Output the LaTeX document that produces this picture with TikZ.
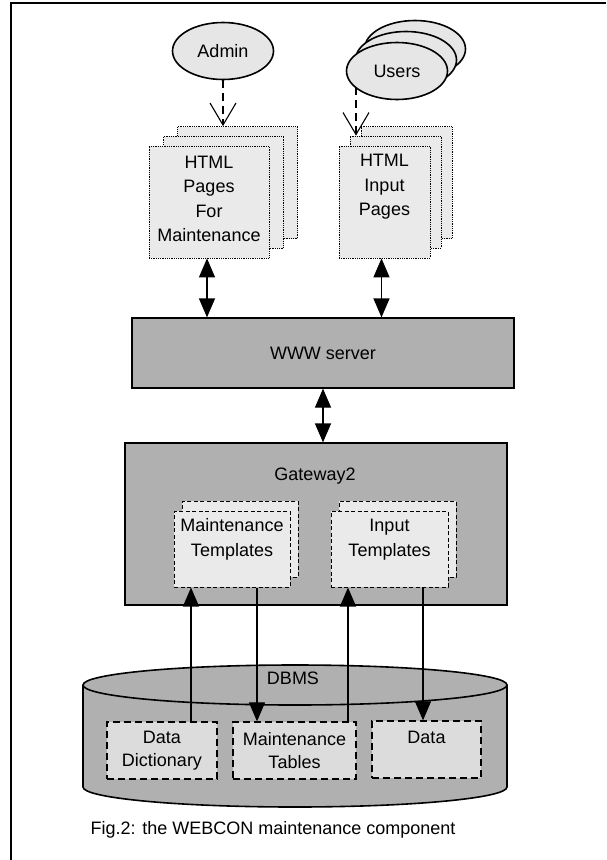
\documentclass[tikz,border=0pt]{standalone}
\usepackage{fontspec}
\setmainfont{Liberation Sans}
\usetikzlibrary{arrows.meta,shapes.geometric}
\definecolor{dgray}{RGB}{176,176,176}
\definecolor{lgray}{RGB}{234,234,234}
\definecolor{egray}{RGB}{230,230,230}
\definecolor{bgray}{RGB}{220,220,220}
\begin{document}
\begin{tikzpicture}[x=1pt,y=-1pt,
  font=\fontsize{18}{24.5}\selectfont,
  pg/.style={draw, densely dotted, fill=lgray, line width=0.8pt, inner sep=0pt, minimum height=112pt},
  tpl/.style={draw, fill=lgray, line width=1pt, dash pattern=on 4pt off 2.5pt, inner sep=0pt, minimum height=76pt},
  dbb/.style={draw, fill=bgray, line width=1.3pt, dash pattern=on 7pt off 4pt, inner sep=0pt, minimum height=57pt},
  graybox/.style={draw, fill=dgray, line width=1.2pt, inner sep=0pt, minimum width=382pt},
  actor/.style={ellipse, draw, fill=egray, line width=1.6pt, minimum width=101pt, minimum height=57pt, inner sep=0pt},
  txt/.style={align=center, inner sep=0pt},
  dbl/.style={{Triangle[width=16pt,length=19pt]}-{Triangle[width=16pt,length=19pt]}, line width=1.2pt},
  one/.style={-{Triangle[width=16pt,length=19pt]}, line width=1.2pt},
  dsh/.style={dash pattern=on 8pt off 5pt, -{Straight Barb[width=26pt,length=22pt,line width=1.1pt]}, line width=1.1pt}]
\useasboundingbox (0,0) rectangle (606,860);
% frame
\draw[line width=2.5pt] (11,860) -- (11,3) -- (606,3);

% actors
\node[actor] (admin) at (223,51) {Admin};
\node[actor] (users3) at (415,49) {};
\node[actor] (users2) at (406,60) {};
\node[actor] (users1) at (397,71) {Users};

% HTML pages for maintenance
\node[pg, minimum width=120pt] (hpm3) at (237.5,182.5) {};
\node[pg, minimum width=120pt] (hpm2) at (223.5,192) {};
\node[pg, minimum width=120pt] (hpm1) at (209,202) {};
\node[txt] (hpmt) at (209,199) {HTML\\Pages\\For\\Maintenance};

% HTML input pages
\node[pg, minimum width=91pt] (ip3) at (406.5,182.5) {};
\node[pg, minimum width=91pt] (ip2) at (395.5,192) {};
\node[pg, minimum width=91pt] (ip1) at (384.5,202) {};
\node[txt] (ipt) at (384.5,187) {HTML\\Input\\Pages};

% dashed arrows from actors
\draw[dsh] (admin.south) -- (admin.south |- hpm3.north);
\coordinate (ua) at (356,87);
\draw[dsh] (ua) -- (ua |- ip2.north);

% WWW server
\node[graybox, minimum height=70pt] (www) at (323,353) {WWW server};
\draw[dbl] ([xshift=-2pt]hpm1.south) -- ([xshift=-2pt]hpm1.south |- www.north);
\draw[dbl] ([xshift=-3pt]ip1.south) -- ([xshift=-3pt]ip1.south |- www.north);

% Gateway2
\node[graybox, minimum height=162pt] (gw) at (316,524) {};
\node[txt] (gwt) at (315,476) {Gateway2};
\draw[dbl] (www.south) -- (www.south |- gw.north);

\node[tpl, minimum width=116pt] (mt2) at (240,539) {};
\node[tpl, minimum width=116pt] (mt1) at (232,549) {};
\node[txt] (mtt) at (232,539.5) {Maintenance\\[0.5pt]Templates};
\node[tpl, minimum width=117pt] (it2) at (397.5,539) {};
\node[tpl, minimum width=117pt] (it1) at (389.5,549) {};
\node[txt] (itt) at (389.5,539.5) {Input\\[0.5pt]Templates};

% DBMS cylinder
\draw[fill=dgray, line width=1.6pt] (83,685) -- (83,787)
  arc[start angle=180, end angle=0, x radius=212, y radius=20] -- (507,685);
\draw[fill=dgray, line width=1.6pt] (295,685) ellipse[x radius=212, y radius=20];
\node[txt] (dbt) at (293,678) {DBMS};

\node[dbb, minimum width=110pt] (dd) at (162,750.5) {};
\node[txt] (ddt) at (162,750.5) {Data\\[-1.5pt]Dictionary};
\node[dbb, minimum width=123pt] (mtab) at (294.5,750.5) {};
\node[txt] (mtabt) at (294.5,750.5) {Maintenance\\[-1.5pt]Tables};
\node[dbb, minimum width=109pt] (data) at (426.5,749.5) {};
\node[txt] (datat) at (426.5,737) {Data};

% arrows between Gateway templates and DBMS
\draw[one] ([xshift=29pt]dd.north) -- ([xshift=29pt]dd.north |- mt1.south);
\draw[one] ([xshift=25pt]mt1.south) -- ([xshift=25pt]mt1.south |- mtab.north);
\draw[one] ([xshift=53.5pt]mtab.north) -- ([xshift=53.5pt]mtab.north |- it1.south);
\draw[one] ([xshift=33.5pt]it1.south) -- ([xshift=33.5pt]it1.south |- data.north);

% caption
\node[txt] (cap) at (273,830) {Fig.2: the WEBCON maintenance component};
\end{tikzpicture}
\end{document}
